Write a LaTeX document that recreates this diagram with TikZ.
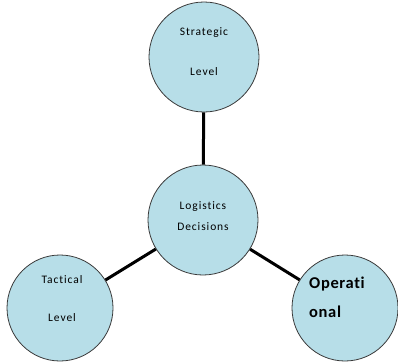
\documentclass[tikz,border=0pt]{standalone}
\usepackage{fontspec}
\setmainfont{Carlito}
\newfontfamily\widefont[LetterSpace=8,Ligatures=NoCommon]{Carlito}
\newfontfamily\widebold[LetterSpace=4,Ligatures=NoCommon]{Carlito Bold}
\definecolor{circfill}{HTML}{B7DEE8}
\definecolor{circline}{HTML}{3A3A3A}
\begin{document}
\begin{tikzpicture}[x=1pt,y=-1pt,
  bubble/.style={circle,draw=circline,line width=0.8pt,fill=circfill,inner sep=0pt,minimum size=#1},
  lbl/.style={font=\widefont\fontsize{11.5}{13}\selectfont,inner sep=0pt},
  blbl/.style={font=\widebold\fontsize{16.5}{18}\selectfont,inner sep=0pt,anchor=west},
  link/.style={line width=3pt,black}]
\useasboundingbox (0,0) rectangle (398,362);
\node[bubble=110pt] (s) at (204,57) {};
\node[bubble=110pt] (c) at (203,220) {};
\node[bubble=106pt] (t) at (60,308) {};
\node[bubble=106pt] (o) at (345,308) {};
\draw[link] (s) -- (c);
\draw[link] (c) -- (t);
\draw[link] (c) -- (o);
\node[lbl] (s1) at (204,33) {Strategic};
\node[lbl] (s2) at (204,72) {Level};
\node[lbl] (c1) at (203,207) {Logistics};
\node[lbl] (c2) at (203,227) {Decisions};
\node[lbl] (t1) at (62,280) {Tactical};
\node[lbl] (t2) at (62,318) {Level};
\node[blbl] (o1) at (309,284) {Operati};
\node[blbl] (o2) at (309,312) {onal};
\end{tikzpicture}
\end{document}
